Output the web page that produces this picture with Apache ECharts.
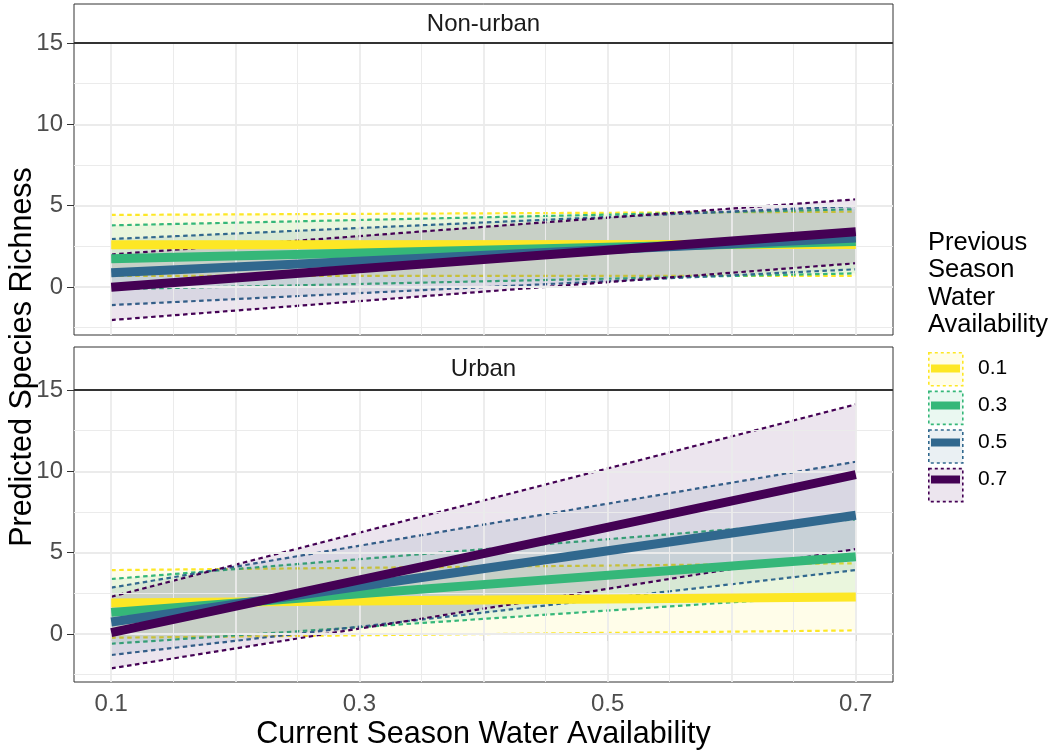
<!DOCTYPE html>
<html><head><meta charset="utf-8">
<script src="https://cdn.jsdelivr.net/npm/echarts@6/dist/echarts.min.js"></script>
<style>html,body{margin:0;padding:0;background:#fff}#chart{width:1050px;height:751px}</style>
</head><body><div id="chart"></div>
<script>
// ---- data ----
const currentWater = [0.1, 0.7];
const previousWater = ['0.1', '0.3', '0.5', '0.7'];
const groupColors = ['#FDE725', '#35B779', '#31688E', '#440154'];
const panelNames = ['Non-urban', 'Urban'];

// Non-urban panel (rows: previous water 0.1, 0.3, 0.5, 0.7; columns: current water 0.1, 0.7)
const nonUrbanFit  = [[2.60, 2.62], [1.74, 2.80], [0.87, 3.02], [-0.01, 3.40]];
const nonUrbanLow  = [[0.68, 0.68], [-0.14, 0.84], [-1.11, 1.09], [-2.03, 1.46]];
const nonUrbanHigh = [[4.43, 4.63], [3.79, 4.78], [2.95, 4.98], [2.00, 5.39]];

// Urban panel
const urbanFit  = [[1.90, 2.28], [1.33, 4.75], [0.74, 7.30], [0.09, 9.80]];
const urbanLow  = [[-0.23, 0.22], [-0.60, 2.46], [-1.29, 3.93], [-2.11, 5.22]];
const urbanHigh = [[3.93, 4.35], [3.38, 7.05], [2.85, 10.59], [2.29, 14.12]];

// axes
const yTickValues = [0, 5, 10, 15];
const yMinorValues = [-2.5, 2.5, 7.5, 12.5];
const xTickValues = [0.1, 0.2, 0.3, 0.4, 0.5, 0.6, 0.7];
const xLabelValues = [0.1, 0.3, 0.5, 0.7];
const xMinorValues = [0.15, 0.25, 0.35, 0.45, 0.55, 0.65];

// ---- build ----
const FONT = "'Liberation Sans', Arial, Helvetica, sans-serif";
function rgba(hex, a) {
  const n = parseInt(hex.slice(1), 16);
  return 'rgba(' + (n >> 16 & 255) + ',' + (n >> 8 & 255) + ',' + (n & 255) + ',' + a + ')';
}
const panelFit = [nonUrbanFit, urbanFit];
const panelLow = [nonUrbanLow, urbanLow];
const panelHigh = [nonUrbanHigh, urbanHigh];

const gridTops = [43, 390];
const grids = gridTops.map(t => ({
  left: 74, top: t, width: 819, height: 292, show: true,
  backgroundColor: '#fff', borderColor: '#333', borderWidth: 1
}));

const xAxes = [0, 1].map(p => ({
  type: 'value', gridIndex: p, min: 0.07, max: 0.73,
  axisLine: { show: false }, splitLine: { show: false },
  axisTick: { show: p === 1, customValues: xTickValues, length: 7, lineStyle: { color: '#333', width: 1 } },
  axisLabel: { show: p === 1, customValues: xLabelValues, formatter: v => Number(v).toFixed(1),
    margin: 10, fontSize: 24, color: '#4d4d4d', fontFamily: FONT },
  name: p === 1 ? 'Current Season Water Availability' : '',
  nameLocation: 'middle', nameGap: 37,
  nameTextStyle: { fontSize: 30.5, color: '#000', fontFamily: FONT }
}));

const yAxes = [0, 1].map(p => ({
  type: 'value', gridIndex: p, min: -2.95, max: 15,
  axisLine: { show: false }, splitLine: { show: false },
  axisTick: { show: true, customValues: yTickValues, length: 7, lineStyle: { color: '#333', width: 1 } },
  axisLabel: { show: true, customValues: yTickValues, margin: 11, fontSize: 24, color: '#4d4d4d', fontFamily: FONT }
}));

const series = [];
// ribbons first (legend looks up first series with the name)
[0, 1].forEach(p => {
  previousWater.forEach((g, gi) => {
    const rows = currentWater.map((x, i) => [x, panelLow[p][gi][i], panelHigh[p][gi][i]]);
    const col = groupColors[gi];
    series.push({
      type: 'custom', name: g, xAxisIndex: p, yAxisIndex: p, z: 2, silent: true,
      encode: { x: 0, y: [1, 2] },
      itemStyle: { color: col },
      data: rows,
      renderItem: function (params, api) {
        const i = params.dataIndex;
        if (i >= rows.length - 1) return null;
        const a = rows[i], b = rows[i + 1];
        const hiA = api.coord([a[0], a[2]]), hiB = api.coord([b[0], b[2]]);
        const loA = api.coord([a[0], a[1]]), loB = api.coord([b[0], b[1]]);
        return {
          type: 'group', children: [
            { type: 'polygon', shape: { points: [hiA, hiB, loB, loA] }, style: { fill: rgba(col, 0.1), stroke: null } },
            { type: 'polyline', shape: { points: [hiA, hiB] }, style: { stroke: col, lineWidth: 2.2, lineDash: [4.5, 3.5], fill: null } },
            { type: 'polyline', shape: { points: [loA, loB] }, style: { stroke: col, lineWidth: 2.2, lineDash: [4.5, 3.5], fill: null } }
          ]
        };
      }
    });
  });
});
// grid lines
[0, 1].forEach(p => {
  const ml = [];
  yMinorValues.forEach(v => ml.push({ yAxis: v, lineStyle: { color: '#ebebeb', width: 1, type: 'solid' } }));
  xMinorValues.forEach(v => ml.push({ xAxis: v, lineStyle: { color: '#ebebeb', width: 1, type: 'solid' } }));
  yTickValues.forEach(v => ml.push({ yAxis: v, lineStyle: { color: '#ebebeb', width: 1.8, type: 'solid' } }));
  xTickValues.forEach(v => ml.push({ xAxis: v, lineStyle: { color: '#ebebeb', width: 1.8, type: 'solid' } }));
  series.push({
    type: 'line', name: 'grid' + p, xAxisIndex: p, yAxisIndex: p, data: [], z: 3, silent: true,
    markLine: { silent: true, z: 3, symbol: ['none', 'none'], label: { show: false }, animation: false,
      emphasis: { disabled: true }, data: ml }
  });
});
// fitted lines
[0, 1].forEach(p => {
  previousWater.forEach((g, gi) => {
    series.push({
      type: 'line', name: g, xAxisIndex: p, yAxisIndex: p, z: 4, silent: true,
      showSymbol: false, symbol: 'none',
      lineStyle: { width: 9, color: groupColors[gi], cap: 'butt' },
      itemStyle: { color: groupColors[gi] },
      data: currentWater.map((x, i) => [x, panelFit[p][gi][i]])
    });
  });
});

const option = {
  animation: false,
  backgroundColor: '#fff',
  textStyle: { fontFamily: FONT },
  grid: grids, xAxis: xAxes, yAxis: yAxes, series: series,
  title: {
    text: 'Previous\nSeason\nWater\nAvailability', left: 928, top: 229, padding: 0,
    textStyle: { fontSize: 25.5, lineHeight: 27.5, fontWeight: 'normal', color: '#000', fontFamily: FONT }
  },
  legend: [
    {
      orient: 'vertical', left: 928, top: 352, padding: 0, itemGap: 4, itemWidth: 34, itemHeight: 33,
      selectedMode: false, icon: 'rect', formatter: () => '',
      textStyle: { fontSize: 4, fontFamily: FONT },
      data: previousWater.map((g, gi) => ({
        name: g, icon: 'rect',
        itemStyle: { color: rgba(groupColors[gi], 0.1), borderColor: groupColors[gi], borderWidth: 1.6, borderType: [3, 3] }
      }))
    },
    {
      orient: 'vertical', left: 931, top: 352, padding: 0, itemGap: 4, itemWidth: 29, itemHeight: 8,
      selectedMode: false, icon: 'rect',
      textStyle: { fontSize: 21, lineHeight: 33, color: '#000', fontFamily: FONT, padding: [0, 0, 0, 13] },
      data: previousWater.map((g, gi) => ({
        name: g, icon: 'rect',
        itemStyle: { color: groupColors[gi], borderWidth: 0 }
      }))
    }
  ],
  graphic: [
    { type: 'rect', shape: { x: 74, y: 4, width: 819, height: 39 }, style: { fill: '#fff', stroke: '#333', lineWidth: 1 }, z: 10 },
    { type: 'line', shape: { x1: 74, y1: 43, x2: 893, y2: 43 }, style: { stroke: '#333', lineWidth: 2 }, z: 11 },
    { type: 'text', x: 483.5, y: 24, style: { text: panelNames[0], fontSize: 24, fill: '#1a1a1a', align: 'center', verticalAlign: 'middle', fontFamily: FONT }, z: 12 },
    { type: 'rect', shape: { x: 74, y: 347, width: 819, height: 43 }, style: { fill: '#fff', stroke: '#333', lineWidth: 1 }, z: 10 },
    { type: 'line', shape: { x1: 74, y1: 390, x2: 893, y2: 390 }, style: { stroke: '#333', lineWidth: 2 }, z: 11 },
    { type: 'text', x: 483.5, y: 369, style: { text: panelNames[1], fontSize: 24, fill: '#1a1a1a', align: 'center', verticalAlign: 'middle', fontFamily: FONT }, z: 12 },
    { type: 'text', x: 23, y: 357, rotation: Math.PI / 2, style: { text: 'Predicted Species Richness', fontSize: 30.5, fill: '#000', align: 'center', verticalAlign: 'middle', fontFamily: FONT }, z: 12 }
  ]
};
const chart = echarts.init(document.getElementById('chart'), null, { renderer: 'canvas' });
chart.setOption(option);
</script></body></html>
